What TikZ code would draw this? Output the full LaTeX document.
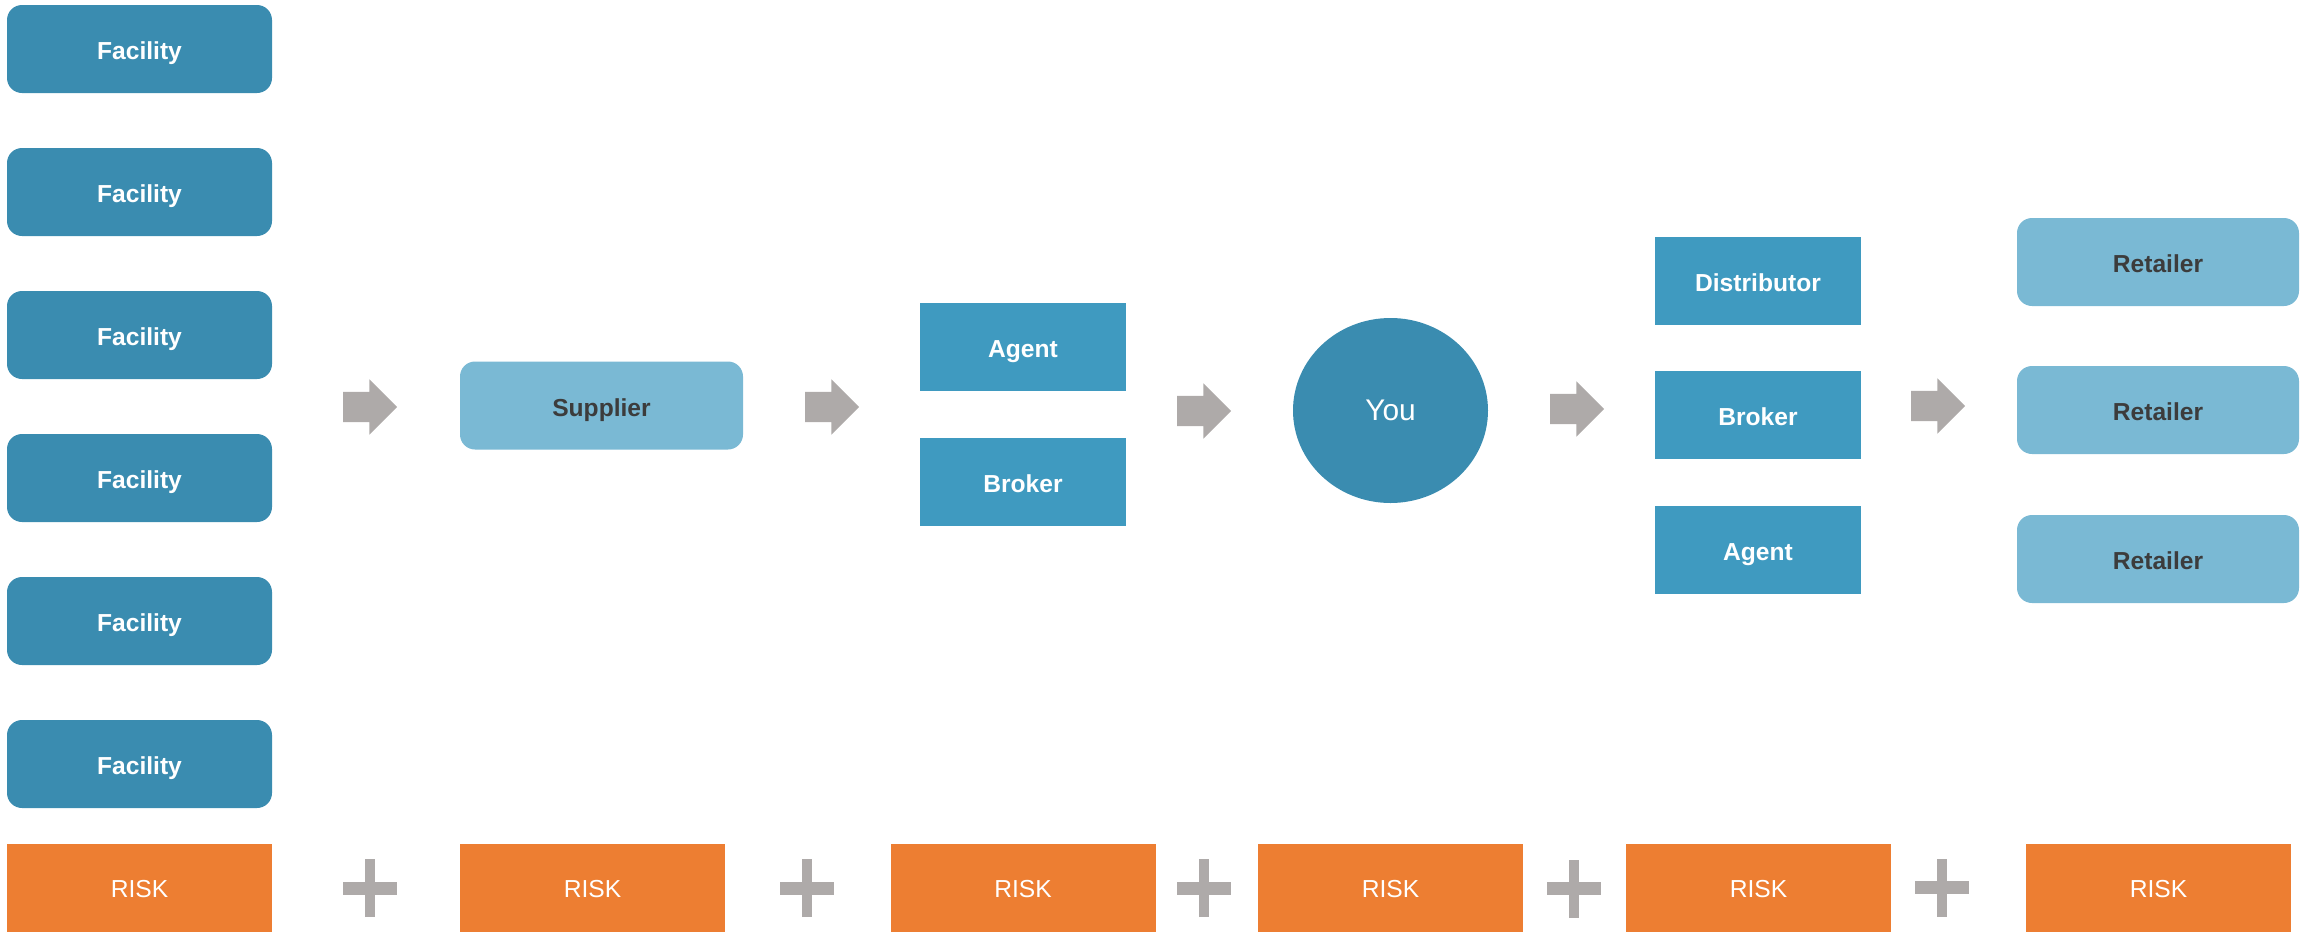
\documentclass[tikz,border=0pt]{standalone}
\usepackage{fontspec}
\setmainfont{Liberation Sans}
\usepackage{xcolor}
\usepackage{tikz}
\usetikzlibrary{shapes, shapes.arrows, positioning}

\definecolor{facblue}{HTML}{3A8CB0}
\definecolor{midblue}{HTML}{3F9AC0}
\definecolor{lightblue}{HTML}{7AB9D4}
\definecolor{arrowgray}{HTML}{AEAAA9}
\definecolor{riskorange}{HTML}{ED7E32}
\definecolor{labelgray}{HTML}{3C3C3C}

\begin{document}
\begin{tikzpicture}[
    facility/.style={rectangle, rounded corners=0.15cm, fill=facblue, minimum width=2.65cm, minimum height=0.88cm, inner sep=0pt, text height=6.2pt, text depth=0pt, text centered, text=white, font=\bfseries\fontsize{7}{8}\selectfont},
    lightbox/.style={rectangle, rounded corners=0.15cm, fill=lightblue, minimum width=2.83cm, minimum height=0.88cm, inner sep=0pt, text height=6.2pt, text depth=0pt, text centered, text=labelgray, font=\bfseries\fontsize{7}{8}\selectfont},
    midbox/.style={rectangle, fill=midblue, minimum width=2.06cm, minimum height=0.88cm, inner sep=0pt, text height=6.2pt, text depth=0pt, text centered, text=white, font=\bfseries\fontsize{7}{8}\selectfont},
    riskbox/.style={rectangle, fill=riskorange, minimum width=2.65cm, minimum height=0.88cm, inner sep=0pt, text height=5.6pt, text depth=0pt, text centered, text=white, font=\fontsize{7}{8}\selectfont},
    flowarrow/.style={single arrow, fill=arrowgray, minimum height=0.54cm, minimum width=0.54cm, inner xsep=0pt, inner ysep=0.145cm, single arrow head extend=0.125cm},
    plussign/.style={draw=arrowgray},
  ]

    \useasboundingbox (0,0) rectangle (23.05,-9.32);

    % Facilities
    \node[facility] (fac1) at (1.395, -0.49) {Facility};
    \node[facility] (fac2) at (1.395, -1.92) {Facility};
    \node[facility] (fac3) at (1.395, -3.35) {Facility};
    \node[facility] (fac4) at (1.395, -4.78) {Facility};
    \node[facility] (fac5) at (1.395, -6.21) {Facility};
    \node[facility] (fac6) at (1.395, -7.64) {Facility};

    % Supplier
    \node[lightbox] (supplier) at (6.015, -4.055) {Supplier};

    % Agent / Broker
    \node[midbox] (agent1) at (10.23, -3.47) {Agent};
    \node[midbox] (broker1) at (10.23, -4.82) {Broker};

    % You
    \node[ellipse, fill=facblue, minimum width=1.95cm, minimum height=1.85cm, inner sep=0pt, text=white, font=\fontsize{8.5}{10}\selectfont] (you) at (13.905, -4.105) {You};

    % Distributor / Broker / Agent
    \node[midbox] (distributor) at (17.58, -2.81) {Distributor};
    \node[midbox] (broker2) at (17.58, -4.145) {Broker};
    \node[midbox] (agent2) at (17.58, -5.50) {Agent};

    % Retailers
    \node[lightbox, minimum width=2.82cm] (retailer1) at (21.58, -2.62) {Retailer};
    \node[lightbox, minimum width=2.82cm] (retailer2) at (21.58, -4.10) {Retailer};
    \node[lightbox, minimum width=2.82cm] (retailer3) at (21.58, -5.59) {Retailer};

    % Flow arrows
    \node[flowarrow] (arr1) at (3.625, -4.07) {};
    \node[flowarrow] (arr2) at (8.245, -4.07) {};
    \node[flowarrow] (arr3) at (11.965, -4.11) {};
    \node[flowarrow] (arr4) at (15.695, -4.09) {};
    \node[flowarrow] (arr5) at (19.305, -4.06) {};

    % Risk
    \node[riskbox] (risk1) at (1.395, -8.88) {RISK};
    \node[riskbox] (risk2) at (5.925, -8.88) {RISK};
    \node[riskbox] (risk3) at (10.23, -8.88) {RISK};
    \node[riskbox] (risk4) at (13.905, -8.88) {RISK};
    \node[riskbox] (risk5) at (17.585, -8.88) {RISK};
    \node[riskbox] (risk6) at (21.585, -8.875) {RISK};

    % Plus signs
    \coordinate (plus1) at (3.70, -8.88);
    \coordinate (plus2) at (8.07, -8.88);
    \coordinate (plus3) at (12.04, -8.88);
    \coordinate (plus4) at (15.74, -8.885);
    \coordinate (plus5) at (19.42, -8.875);
    \draw[plussign, line width=0.13cm] (plus1) ++(-0.27,0) -- ++(0.54,0) (plus2) ++(-0.27,0) -- ++(0.54,0) (plus3) ++(-0.27,0) -- ++(0.54,0) (plus4) ++(-0.27,0) -- ++(0.54,0) (plus5) ++(-0.27,0) -- ++(0.54,0);
    \draw[plussign, line width=0.10cm] (plus1) ++(0,-0.29) -- ++(0,0.58) (plus2) ++(0,-0.29) -- ++(0,0.58) (plus3) ++(0,-0.29) -- ++(0,0.58) (plus4) ++(0,-0.29) -- ++(0,0.58) (plus5) ++(0,-0.29) -- ++(0,0.58);

  \end{tikzpicture}
\end{document}
